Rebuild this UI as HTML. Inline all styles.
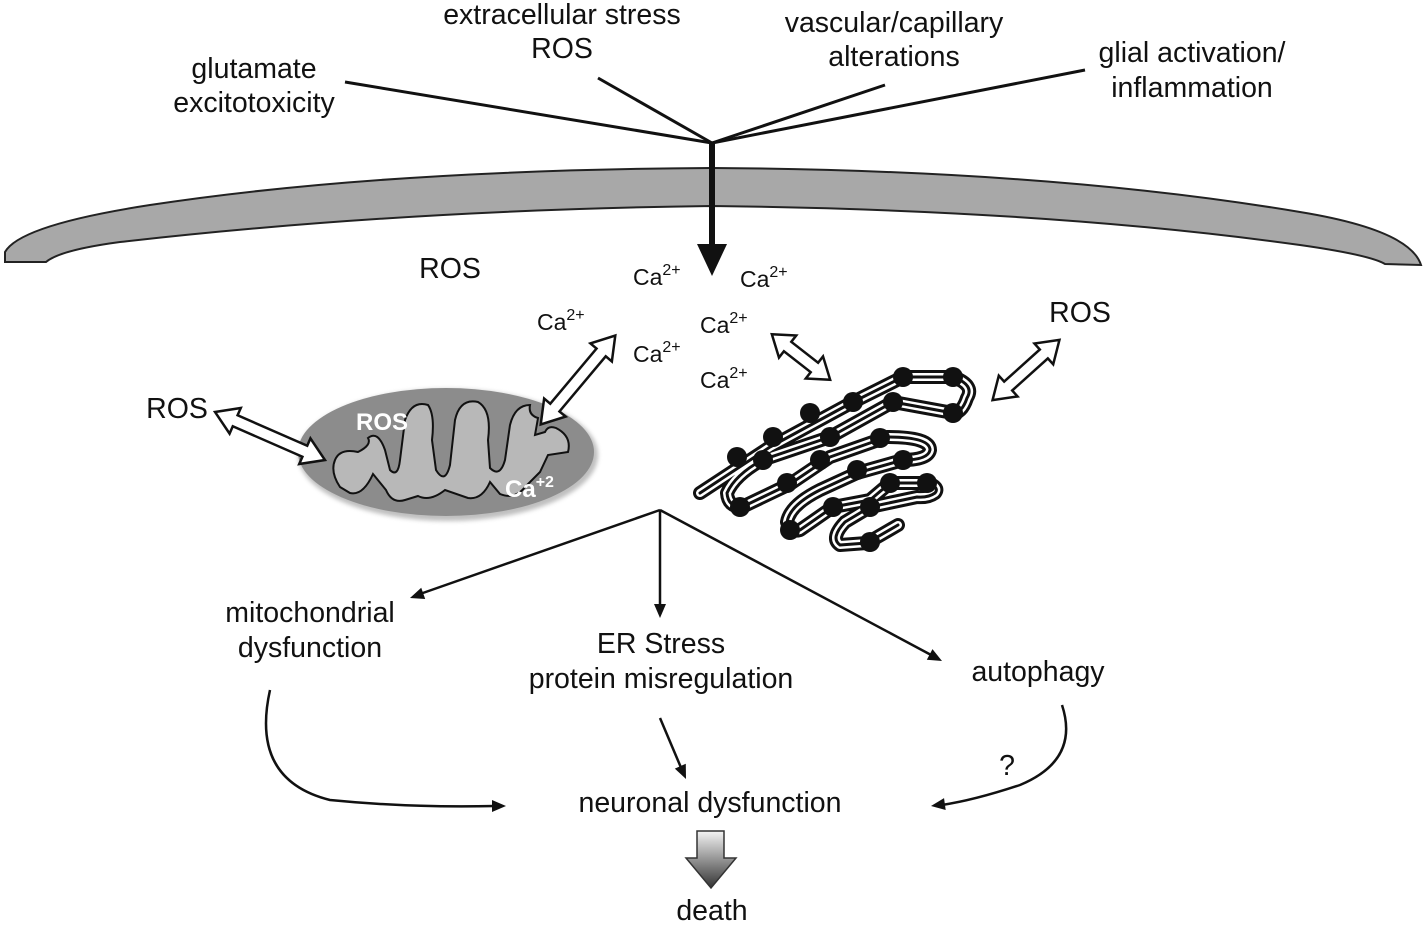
<!DOCTYPE html>
<html><head><meta charset="utf-8"><style>
body{margin:0;background:#fff}
svg{display:block}
text{font-family:"Liberation Sans",sans-serif;fill:#111}
</style></head><body>
<svg width="1426" height="926" viewBox="0 0 1426 926" xmlns="http://www.w3.org/2000/svg">
<defs>
<linearGradient id="dg" x1="0" y1="0" x2="0" y2="1"><stop offset="0" stop-color="#f4f4f4"/><stop offset="1" stop-color="#333"/></linearGradient>
<filter id="sh"><feGaussianBlur stdDeviation="2"/></filter>
<path id="er" d="M700,493 L770,447 L853,402 L903,377 L953,377 Q975,385 967,398 Q962,413 953,413 L893,402 L830,437 L762,460 Q735,475 727,493 Q728,507 742,507 L790,484 L830,457 L887,437 Q930,437 930,450 Q928,460 903,460 L857,473 L820,490 Q790,505 787,522 Q790,533 800,530 L833,507 L870,500 L890,483 L927,483 Q940,487 935,493 Q928,498 917,497 L870,507 L845,522 Q830,538 840,545 L867,543 L898,525"/>
</defs>
<path d="M5,262 L46,262 Q60,250 120,242 Q400,210 712,206 Q1050,210 1300,245 Q1370,255 1385,264 L1421,265 Q1410,230 1300,212 Q1050,170 712,168 Q380,170 150,205 Q20,225 5,252 Z" fill="#a8a8a8" stroke="#222" stroke-width="2"/>
<g stroke="#111" stroke-width="3" fill="none">
<line x1="345" y1="82" x2="712" y2="143"/>
<line x1="598" y1="78" x2="712" y2="143"/>
<line x1="885" y1="85" x2="712" y2="143"/>
<line x1="1085" y1="70" x2="712" y2="143"/>
</g>
<line x1="712" y1="143" x2="712" y2="248" stroke="#111" stroke-width="6"/>
<polygon points="697,244 727,244 712,276" fill="#111"/>
<g font-size="28.5" text-anchor="middle">
<text x="254" y="78">glutamate</text><text x="254" y="112">excitotoxicity</text>
<text x="562" y="24">extracellular stress</text><text x="562" y="58">ROS</text>
<text x="894" y="32">vascular/capillary</text><text x="894" y="66">alterations</text>
<text x="1192" y="62">glial activation/</text><text x="1192" y="97">inflammation</text>
<text x="450" y="278">ROS</text>
<text x="177" y="418">ROS</text>
<text x="1080" y="322">ROS</text>
</g>
<g font-size="23">
<text x="633" y="285">Ca<tspan font-size="16" dy="-10">2+</tspan></text>
<text x="740" y="287">Ca<tspan font-size="16" dy="-10">2+</tspan></text>
<text x="537" y="330">Ca<tspan font-size="16" dy="-10">2+</tspan></text>
<text x="700" y="333">Ca<tspan font-size="16" dy="-10">2+</tspan></text>
<text x="633" y="362">Ca<tspan font-size="16" dy="-10">2+</tspan></text>
<text x="700" y="388">Ca<tspan font-size="16" dy="-10">2+</tspan></text>
</g>
<ellipse cx="448" cy="455" rx="150" ry="66" fill="#808080" filter="url(#sh)" opacity="0.5"/>
<ellipse cx="446" cy="452" rx="148" ry="64" fill="#8c8c8c"/>
<path d="M335,460 Q340,448 358,452 Q372,445 368,438 Q378,430 385,450 L390,470 Q398,478 400,460 L405,420 Q412,400 428,405 Q435,415 432,440 L436,470 Q445,485 450,465 L455,420 Q460,398 478,402 Q492,410 488,440 L490,468 Q500,478 505,460 L510,425 Q515,405 530,405 Q528,415 538,418 L535,435 L545,432 Q548,425 556,428 Q572,436 568,452 L548,455 L540,472 L525,487 Q515,500 500,494 L490,482 Q482,500 468,498 L445,490 Q430,502 418,496 L405,500 Q392,504 386,490 L373,474 Q363,496 350,493 L340,487 Q330,472 335,460 Z" fill="#b8b8b8" stroke="#111" stroke-width="2"/>
<text x="356" y="430" font-size="24" font-weight="bold" style="fill:#fff">ROS</text>
<text x="505" y="497" font-size="24" font-weight="bold" style="fill:#fff">Ca<tspan font-size="16" dy="-10">+2</tspan></text>
<g fill="none" stroke-linecap="round" stroke-linejoin="round">
<use href="#er" stroke="#111" stroke-width="14"/>
<use href="#er" stroke="#fff" stroke-width="8"/>
<use href="#er" stroke="#111" stroke-width="3"/>
</g>
<g fill="#111">
<circle cx="737" cy="457" r="10"/><circle cx="773" cy="437" r="10"/><circle cx="810" cy="413" r="10"/><circle cx="853" cy="402" r="10"/><circle cx="903" cy="377" r="10"/><circle cx="953" cy="377" r="10"/><circle cx="953" cy="413" r="10"/>
<circle cx="893" cy="402" r="10"/><circle cx="830" cy="437" r="10"/><circle cx="763" cy="460" r="10"/><circle cx="880" cy="438" r="10"/><circle cx="740" cy="507" r="10"/>
<circle cx="787" cy="483" r="10"/><circle cx="820" cy="460" r="10"/><circle cx="857" cy="470" r="10"/><circle cx="903" cy="460" r="10"/><circle cx="890" cy="483" r="10"/><circle cx="927" cy="483" r="10"/>
<circle cx="833" cy="507" r="10"/><circle cx="870" cy="507" r="10"/><circle cx="790" cy="530" r="10"/><circle cx="870" cy="542" r="10"/>
</g>
<g fill="#fff" stroke="#111" stroke-width="2.5" stroke-linejoin="miter">
<polygon transform="translate(270,436) rotate(23.6)" points="-60,0 -38,-14 -38,-6 38,-6 38,-14 60,0 38,14 38,6 -38,6 -38,14"/>
<polygon transform="translate(578,380) rotate(-50)" points="-58,0 -36,-14 -36,-6 36,-6 36,-14 58,0 36,14 36,6 -36,6 -36,14"/>
<polygon transform="translate(801,357) rotate(38)" points="-37,0 -17,-14 -17,-6 17,-6 17,-14 37,0 17,14 17,6 -17,6 -17,14"/>
<polygon transform="translate(1026,370) rotate(-42)" points="-45,0 -24,-14 -24,-6 24,-6 24,-14 45,0 24,14 24,6 -24,6 -24,14"/>
</g>
<g stroke="#111" stroke-width="2.5" fill="none">
<line x1="660" y1="510" x2="420" y2="594"/>
<line x1="660" y1="510" x2="660" y2="607"/>
<line x1="660" y1="510" x2="933" y2="656"/>
<path d="M270,690 Q250,780 330,800 Q410,808 495,806"/>
<line x1="660" y1="718" x2="682" y2="770"/>
<path d="M1062,705 Q1080,760 1020,785 Q975,800 942,805"/>
</g>
<g fill="#111">
<polygon transform="translate(410,598) rotate(160.7)" points="0,0 -14,-6 -14,6"/>
<polygon transform="translate(660,618) rotate(90)" points="0,0 -14,-6 -14,6"/>
<polygon transform="translate(942,661) rotate(28.1)" points="0,0 -14,-6 -14,6"/>
<polygon transform="translate(506,806) rotate(0)" points="0,0 -14,-6 -14,6"/>
<polygon transform="translate(686,779) rotate(66)" points="0,0 -14,-6 -14,6"/>
<polygon transform="translate(931,806) rotate(172)" points="0,0 -14,-6 -14,6"/>
</g>
<polygon points="697,831 724,831 724,858 736,858 711,888 686,858 697,858" fill="url(#dg)" stroke="#333" stroke-width="1.5"/>
<g font-size="28.5" text-anchor="middle">
<text x="310" y="622">mitochondrial</text><text x="310" y="657">dysfunction</text>
<text x="661" y="653">ER Stress</text><text x="661" y="688">protein misregulation</text>
<text x="1038" y="681">autophagy</text>
<text x="1007" y="775">?</text>
<text x="710" y="812">neuronal dysfunction</text>
<text x="712" y="920">death</text>
</g>
</svg>
</body></html>
